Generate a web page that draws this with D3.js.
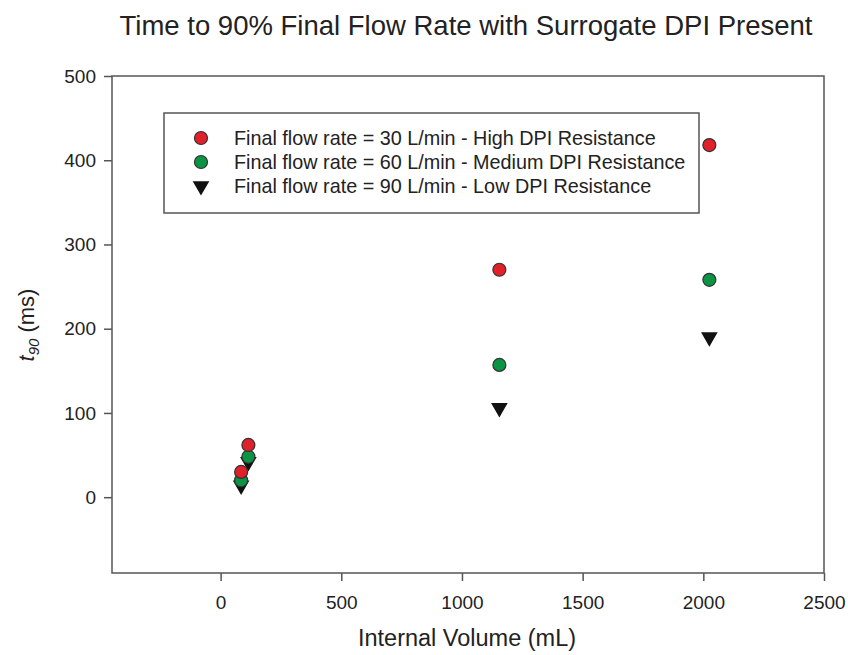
<!DOCTYPE html>
<html>
<head>
<meta charset="utf-8">
<script src="https://cdn.jsdelivr.net/npm/d3@7"></script>
<style>
  body { margin: 0; background: #fff; }
  text { font-family: "Liberation Sans", Arial, sans-serif; fill: #222; }
</style>
</head>
<body>
<script>
// internal volume (mL) for each device
const volumes = [85, 115, 1155, 2025];
// t90 (ms) per final flow rate
const t90High = [30, 62, 270, 418];   // 30 L/min
const t90Medium = [20, 48, 157, 258]; // 60 L/min
const t90Low = [14, 42, 106, 190];    // 90 L/min

const seriesNames = [
  "Final flow rate = 30 L/min - High DPI Resistance",
  "Final flow rate = 60 L/min - Medium DPI Resistance",
  "Final flow rate = 90 L/min - Low DPI Resistance"
];
const xTicks = [0, 500, 1000, 1500, 2000, 2500];
const yTicks = [0, 100, 200, 300, 400, 500];

const width = 848;
const height = 655;
const margin = { top: 76, right: 24, bottom: 82, left: 112 };

const svg = d3.select("body")
  .append("svg")
  .attr("width", width)
  .attr("height", height);

const x = d3.scaleLinear()
  .domain([-450, 2500])
  .range([margin.left, width - margin.right]);

const y = d3.scaleLinear()
  .domain([-90, 500])
  .range([height - margin.bottom, margin.top]);

//frame
svg.append("rect")
  .attr("x", x(-450))
  .attr("y", y(500))
  .attr("width", x(2500) - x(-450))
  .attr("height", y(-90) - y(500))
  .attr("fill", "none")
  .attr("stroke", "#555")
  .attr("stroke-width", 1.5);

//axes
const xAxis = svg.append("g")
  .attr("transform", `translate(0,${y(-90)})`)
  .call(d3.axisBottom(x).tickValues(xTicks).tickFormat(d3.format("d")).tickSize(8).tickPadding(15));

const yAxis = svg.append("g")
  .attr("transform", `translate(${x(-450)},0)`)
  .call(d3.axisLeft(y).tickValues(yTicks).tickFormat(d3.format("d")).tickSize(8).tickPadding(8));

[xAxis, yAxis].forEach((g) => {
  g.select(".domain").remove();
  g.selectAll("line").attr("stroke", "#555").attr("stroke-width", 1.5);
  g.selectAll("text")
    .attr("fill", "#222")
    .style("font-size", "19px")
    .style("font-family", "'Liberation Sans', Arial, sans-serif");
});

//title
svg.append("text")
  .attr("x", 466)
  .attr("y", 35)
  .attr("text-anchor", "middle")
  .style("font-size", "27.5px")
  .text("Time to 90% Final Flow Rate with Surrogate DPI Present");

//axis labels
svg.append("text")
  .attr("x", 467)
  .attr("y", 646)
  .attr("text-anchor", "middle")
  .style("font-size", "23.5px")
  .text("Internal Volume (mL)");

const yLabel = svg.append("text")
  .attr("transform", "translate(34,325) rotate(-90)")
  .attr("text-anchor", "middle")
  .style("font-size", "22px");
yLabel.append("tspan").style("font-style", "italic").text("t");
yLabel.append("tspan").style("font-style", "italic").style("font-size", "15px").attr("dy", 5).text("90");
yLabel.append("tspan").attr("dy", -5).text(" (ms)");

//markers
const triangle = d3.symbol().type(d3.symbolTriangle).size(120);

function drawCircles(values, color) {
  svg.append("g")
    .selectAll("circle")
    .data(values)
    .enter()
    .append("circle")
    .attr("cx", (d, i) => x(volumes[i]))
    .attr("cy", (d) => y(d))
    .attr("r", 6.5)
    .attr("fill", color)
    .attr("stroke", "#333")
    .attr("stroke-width", 1.2);
}

// triangles first so circles sit on top like the reference
svg.append("g")
  .selectAll("path")
  .data(t90Low)
  .enter()
  .append("path")
  .attr("d", triangle)
  .attr("transform", (d, i) => `translate(${x(volumes[i])},${y(d)}) rotate(180)`)
  .attr("fill", "#111");

drawCircles(t90Medium, "#0b9444");
drawCircles(t90High, "#e0202a");

//legend
const legend = svg.append("g");
legend.append("rect")
  .attr("x", 164)
  .attr("y", 113)
  .attr("width", 535)
  .attr("height", 100)
  .attr("fill", "#fff")
  .attr("stroke", "#555")
  .attr("stroke-width", 1.5);

const rows = [138, 162, 186];
const colors = ["#e0202a", "#0b9444", "#111"];

rows.forEach((ry, i) => {
  if (i < 2) {
    legend.append("circle")
      .attr("cx", 201)
      .attr("cy", ry)
      .attr("r", 6.5)
      .attr("fill", colors[i])
      .attr("stroke", "#333")
      .attr("stroke-width", 1.2);
  } else {
    legend.append("path")
      .attr("d", triangle)
      .attr("transform", `translate(201,${ry}) rotate(180)`)
      .attr("fill", colors[i]);
  }
  legend.append("text")
    .attr("x", 234)
    .attr("y", ry + 7)
    .style("font-size", "19.8px")
    .text(seriesNames[i]);
});
</script>
</body>
</html>
